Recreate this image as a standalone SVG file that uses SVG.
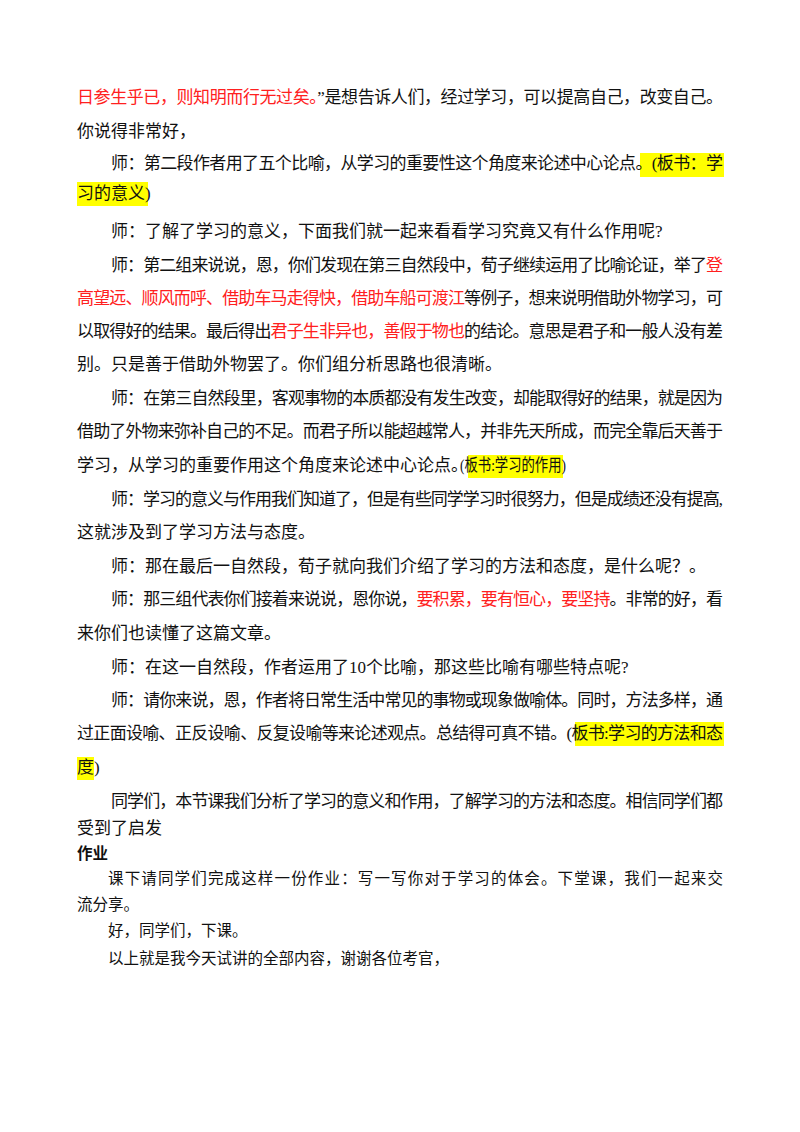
<svg xmlns="http://www.w3.org/2000/svg" width="800" height="1132" viewBox="0 0 800 1132">
<style>
text{font-family:"Liberation Serif","Noto Sans CJK SC",serif;font-size:17px;fill:#111}
.s{font-size:15.5px}
.r{fill:#ff2020}
.b{font-weight:bold}
.h{fill:#ffff00}
</style>
<rect width="800" height="1132" fill="#fff"/>
<g id="highlights">
<rect class="h" x="640" y="153" width="84" height="24"/>
<rect class="h" x="77" y="182" width="71" height="24"/>
<rect class="h" x="468" y="455" width="95" height="23"/>
<rect class="h" x="575" y="722" width="149" height="24"/>
<rect class="h" x="77" y="757" width="17" height="23"/>
</g>
<g id="text">
<text x="77" y="103" textLength="646" lengthAdjust="spacing"><tspan class="r">日参生乎已，则知明而行无过矣。</tspan>”是想告诉人们，经过学习，可以提高自己，改变自己。</text>
<text x="77" y="137">你说得非常好，</text>
<text x="111" y="169" textLength="612" lengthAdjust="spacing">师：第二段作者用了五个比喻，从学习的重要性这个角度来论述中心论点。(板书：学</text>
<text x="77" y="199">习的意义)</text>
<text x="111" y="237">师：了解了学习的意义，下面我们就一起来看看学习究竟又有什么作用呢?</text>
<text x="111" y="271" textLength="612" lengthAdjust="spacing">师：第二组来说说，恩，你们发现在第三自然段中，荀子继续运用了比喻论证，举了<tspan class="r">登</tspan></text>
<text x="77" y="304" textLength="646" lengthAdjust="spacing"><tspan class="r">高望远、顺风而呼、借助车马走得快，借助车船可渡江</tspan>等例子，想来说明借助外物学习，可</text>
<text x="77" y="337" textLength="646" lengthAdjust="spacing">以取得好的结果。最后得出<tspan class="r">君子生非异也，善假于物也</tspan>的结论。意思是君子和一般人没有差</text>
<text x="77" y="370">别。只是善于借助外物罢了。你们组分析思路也很清晰。</text>
<text x="111" y="404" textLength="612" lengthAdjust="spacing">师：在第三自然段里，客观事物的本质都没有发生改变，却能取得好的结果，就是因为</text>
<text x="77" y="437" textLength="646" lengthAdjust="spacing">借助了外物来弥补自己的不足。而君子所以能超越常人，并非先天所成，而完全靠后天善于</text>
<text x="77" y="471">学习，从学习的重要作用这个角度来论述中心论点。</text>
<text x="460" y="471" textLength="106" lengthAdjust="spacingAndGlyphs">(板书:学习的作用)</text>
<text x="111" y="505" textLength="612" lengthAdjust="spacing">师：学习的意义与作用我们知道了，但是有些同学学习时很努力，但是成绩还没有提高,</text>
<text x="77" y="538">这就涉及到了学习方法与态度。</text>
<text x="111" y="572">师：那在最后一自然段，荀子就向我们介绍了学习的方法和态度，是什么呢？。</text>
<text x="111" y="605" textLength="612" lengthAdjust="spacing">师：那三组代表你们接着来说说，恩你说，<tspan class="r">要积累，要有恒心，要坚持</tspan>。非常的好，看</text>
<text x="77" y="639">来你们也读懂了这篇文章。</text>
<text x="111" y="673">师：在这一自然段，作者运用了10个比喻，那这些比喻有哪些特点呢?</text>
<text x="111" y="706" textLength="612" lengthAdjust="spacing">师：请你来说，恩，作者将日常生活中常见的事物或现象做喻体。同时，方法多样，通</text>
<text x="77" y="739" textLength="646" lengthAdjust="spacing">过正面设喻、正反设喻、反复设喻等来论述观点。总结得可真不错。(板书:学习的方法和态</text>
<text x="77" y="773">度)</text>
<text x="111" y="807" textLength="612" lengthAdjust="spacing">同学们，本节课我们分析了学习的意义和作用，了解学习的方法和态度。相信同学们都</text>
<text x="77" y="834">受到了启发</text>
<text class="s b" x="77" y="859">作业</text>
<text class="s" x="108" y="884" textLength="615" lengthAdjust="spacing">课下请同学们完成这样一份作业：写一写你对于学习的体会。下堂课，我们一起来交</text>
<text class="s" x="77" y="910">流分享。</text>
<text class="s" x="108" y="936">好，同学们，下课。</text>
<text class="s" x="108" y="964">以上就是我今天试讲的全部内容，谢谢各位考官，</text>
</g>
</svg>
